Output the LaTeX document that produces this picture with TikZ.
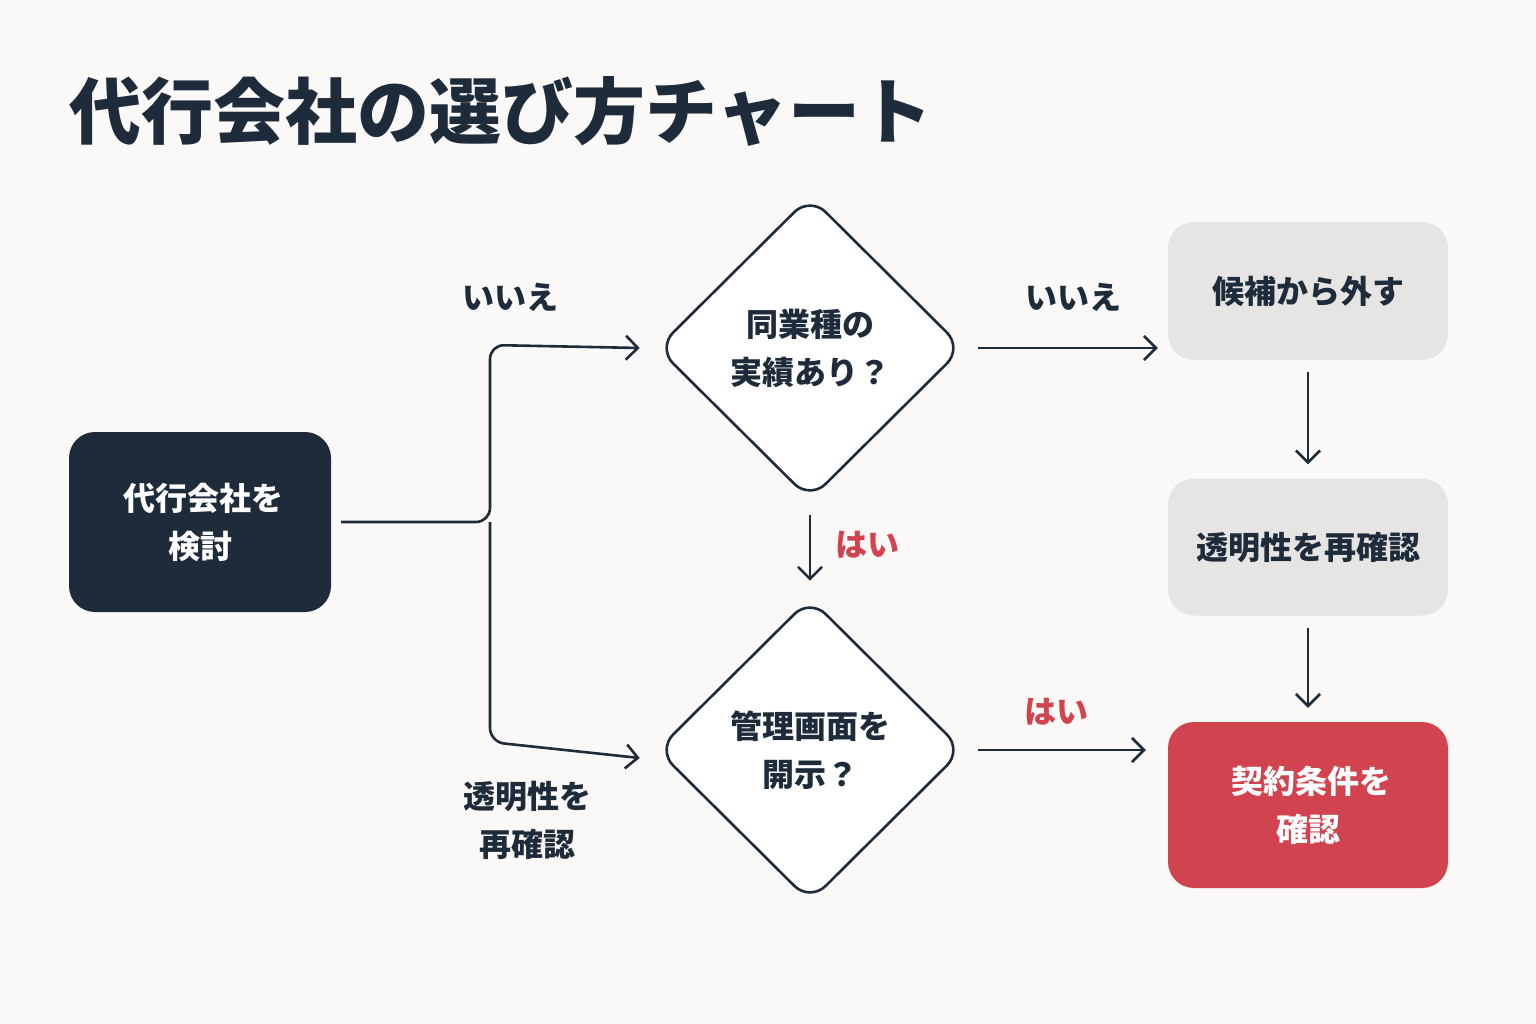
\documentclass[tikz,border=0pt]{standalone}
\usepackage{fontspec}
\setmainfont{Noto Sans CJK JP}
\usetikzlibrary{shapes.geometric,arrows.meta}
\definecolor{ink}{HTML}{1E2B3A}
\definecolor{bg}{HTML}{FAF9F7}
\definecolor{gry}{HTML}{E6E5E3}
\definecolor{rd}{HTML}{D1444F}
\begin{document}
\begin{tikzpicture}[x=1pt,y=-1pt,
  every node/.style={font=\fontsize{32}{48}\selectfont\bfseries},
  ln/.style={draw=ink,line width=2.6pt},
  ar/.style={ln,-{Straight Barb[length=12pt,width=24pt,line width=2.6pt]}},
  box/.style={rounded corners=26pt,minimum width=280pt,align=center,inner sep=0pt},
  dia/.style={diamond,draw=ink,line width=2.6pt,fill=white,minimum width=306pt,minimum height=304pt,rounded corners=22pt,align=center,inner sep=0pt},
  lab/.style={text=ink,align=center},
  yes/.style={text=rd}]
\fill[bg] (0,0) rectangle (1536,1024);
\useasboundingbox (0,0) rectangle (1536,1024);
\node[anchor=west,text=ink,font=\fontsize{72}{80}\selectfont\bfseries] (title) at (66,112) {代行会社の選び方チャート};
\node[box,fill=ink,text=white,minimum height=180pt,minimum width=262pt] (start) at (200,522) {\ 代行会社を\\検討};
\node[dia,text=ink] (d1) at (810,348) {同業種の\\実績あり？};
\node[dia,text=ink] (d2) at (810,750) {管理画面を\\開示？};
\node[box,fill=gry,text=ink,minimum height=138pt] (b1) at (1308,291) {候補から外す};
\node[box,fill=gry,text=ink,minimum height=137pt] (b2) at (1308,547) {透明性を再確認};
\node[box,fill=rd,text=white,minimum height=166pt] (b3) at (1308,805) {\ 契約条件を\\確認};
\coordinate (s0) at ([xshift=10pt]start.east);
\coordinate (sp) at (490,522);
\draw[ar,rounded corners=14pt] (s0) -- (sp) -- (490,345) -- ([xshift=-16pt]d1.west);
\draw[ar,rounded corners=14pt] (sp) -- (490,742) -- ([xshift=-16pt,yshift=-8pt]d2.west);
\draw[ar] ([yshift=-14pt]d1.south) -- ([yshift=16pt]d2.north);
\draw[ar] ([xshift=14pt]d1.east) -- ([xshift=-10pt]d1.east -| b1.west);
\draw[ar] ([yshift=-12pt]b1.south) -- ([yshift=14pt]b2.north);
\draw[ar] ([yshift=-12pt]b2.south) -- ([yshift=14pt]b3.north);
\draw[ar] ([xshift=14pt]d2.east) -- ([xshift=-22pt]d2.east -| b3.west);
\node[lab] (l1) at (510,297) {いいえ};
\node[lab] (l2) at (527,820) {透明性を\\再確認};
\node[yes] (l3) at (867,545) {はい};
\node[lab] (l4) at (1073,297) {いいえ};
\node[yes] (l5) at (1056,712) {はい};
\end{tikzpicture}
\end{document}
